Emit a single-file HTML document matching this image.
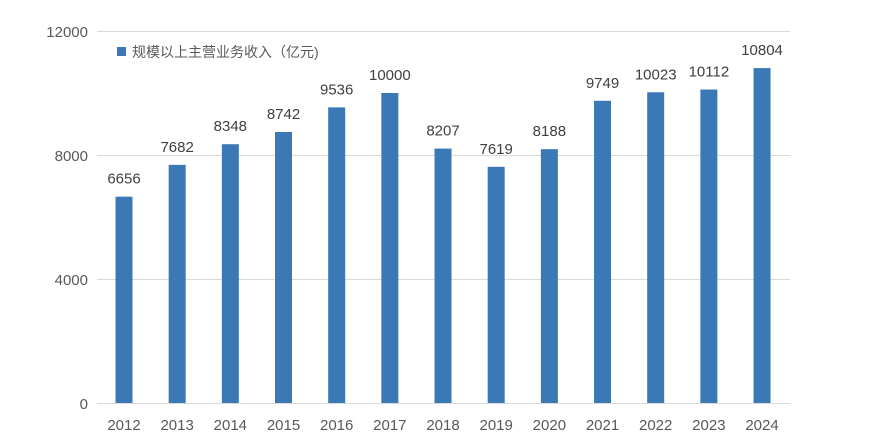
<!DOCTYPE html>
<html><head><meta charset="utf-8"><style>
body{margin:0;background:#fff;}
svg text{font-family:"Liberation Sans","Noto Sans CJK SC",sans-serif;fill:#595959;}
</style></head><body>
<svg width="878" height="440" xmlns="http://www.w3.org/2000/svg">
<rect width="878" height="440" fill="#fff"/>
<g stroke="#d9d9d9" stroke-width="1">
<line x1="97" y1="31.5" x2="790" y2="31.5"/>
<line x1="97" y1="155.5" x2="790" y2="155.5"/>
<line x1="97" y1="279.5" x2="790" y2="279.5"/>
<line x1="97" y1="403.5" x2="790" y2="403.5"/>
</g>
<g font-size="15" text-anchor="end">
<text x="88" y="37">12000</text>
<text x="88" y="161">8000</text>
<text x="88" y="285">4000</text>
<text x="88" y="409">0</text>
</g>
<rect x="117" y="47" width="9" height="9" fill="#3b78b6"/>
<text x="132" y="57" font-size="14">规模以上主营业务收入（亿元)</text>
<g fill="#3b78b6">
<rect x="115.5" y="196.66" width="17" height="206.34"/>
<rect x="168.67" y="164.86" width="17" height="238.14"/>
<rect x="221.84" y="144.21" width="17" height="258.79"/>
<rect x="275.01" y="132" width="17" height="271"/>
<rect x="328.18" y="107.38" width="17" height="295.62"/>
<rect x="381.35" y="93" width="17" height="310"/>
<rect x="434.52" y="148.58" width="17" height="254.42"/>
<rect x="487.69" y="166.81" width="17" height="236.19"/>
<rect x="540.86" y="149.17" width="17" height="253.83"/>
<rect x="594.03" y="100.78" width="17" height="302.22"/>
<rect x="647.2" y="92.29" width="17" height="310.71"/>
<rect x="700.37" y="89.53" width="17" height="313.47"/>
<rect x="753.54" y="68.08" width="17" height="334.92"/>
</g>
<g font-size="15" text-anchor="middle" style="fill:#404040">
<text x="124" y="183.66" style="fill:#404040">6656</text>
<text x="177.17" y="151.86" style="fill:#404040">7682</text>
<text x="230.34" y="131.21" style="fill:#404040">8348</text>
<text x="283.51" y="119" style="fill:#404040">8742</text>
<text x="336.68" y="94.38" style="fill:#404040">9536</text>
<text x="389.85" y="80" style="fill:#404040">10000</text>
<text x="443.02" y="135.58" style="fill:#404040">8207</text>
<text x="496.19" y="153.81" style="fill:#404040">7619</text>
<text x="549.36" y="136.17" style="fill:#404040">8188</text>
<text x="602.53" y="87.78" style="fill:#404040">9749</text>
<text x="655.7" y="79.29" style="fill:#404040">10023</text>
<text x="708.87" y="76.53" style="fill:#404040">10112</text>
<text x="762.04" y="55.08" style="fill:#404040">10804</text>
</g>
<g font-size="15" text-anchor="middle">
<text x="124" y="430">2012</text>
<text x="177.17" y="430">2013</text>
<text x="230.34" y="430">2014</text>
<text x="283.51" y="430">2015</text>
<text x="336.68" y="430">2016</text>
<text x="389.85" y="430">2017</text>
<text x="443.02" y="430">2018</text>
<text x="496.19" y="430">2019</text>
<text x="549.36" y="430">2020</text>
<text x="602.53" y="430">2021</text>
<text x="655.7" y="430">2022</text>
<text x="708.87" y="430">2023</text>
<text x="762.04" y="430">2024</text>
</g>
</svg>
</body></html>
